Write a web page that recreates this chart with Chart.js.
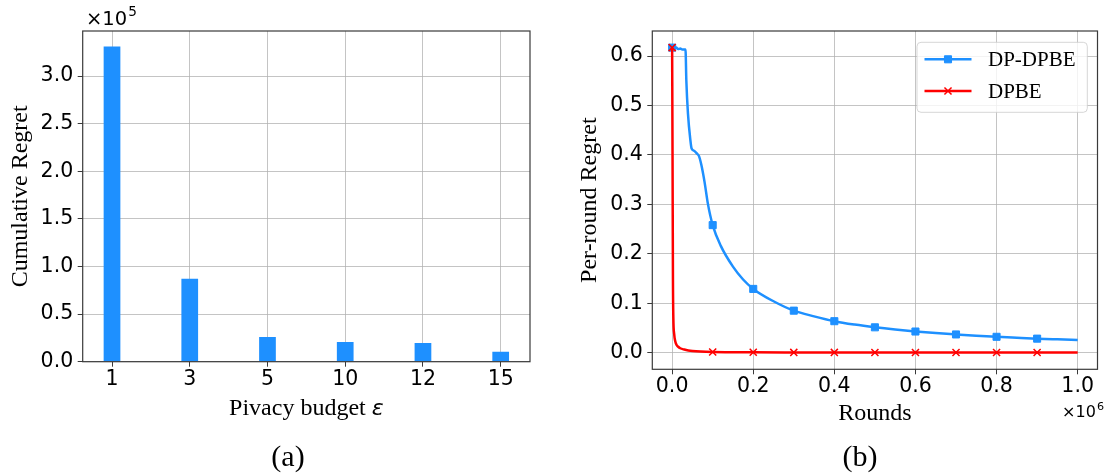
<!DOCTYPE html>
<html lang="en">
<head>
<meta charset="UTF-8">
<title>Regret</title>
<script src="https://cdn.jsdelivr.net/npm/chart.js"></script>
<style>
  body { margin: 0; background: #fff; }
  #wrap { position: relative; width: 1104px; height: 474px; overflow: hidden; }
  canvas { position: absolute; top: 0; }
  #graficoA { left: 0; }
  #graficoB { left: 552px; }
  .rotulo {
    position: absolute; top: 438px; width: 80px; text-align: center;
    font-family: 'Liberation Serif', serif; font-size: 30px; line-height: 36px; color: #000;
  }
</style>
</head>
<body>
<div id="wrap">
  <canvas id="graficoA" width="552" height="474"></canvas>
  <canvas id="graficoB" width="552" height="474"></canvas>
  <div class="rotulo" style="left:248px">(a)</div>
  <div class="rotulo" style="left:820px">(b)</div>
</div>
<script>
  // (a) regret acumulado por orcamento de privacidade
  var epsilons = ['1', '3', '5', '10', '12', '15'];
  var cumRegret = [331000, 87200, 25900, 20700, 19600, 10500];
  var cumTicks = [0, 50000, 100000, 150000, 200000, 250000, 300000];

  // (b) regret por rodada
  var dpdpbeRounds = [0, 5000, 10000, 15000, 20000, 25000, 33000, 35000, 39000, 45000, 48000, 55000, 62000, 66000,
    72000, 80000, 88000, 100000, 120000, 150000, 175000, 200000, 250000, 300000, 350000, 400000, 450000, 500000,
    550000, 600000, 650000, 700000, 750000, 800000, 850000, 900000, 950000, 1000000];
  var dpdpbeRegret = [0.617, 0.616, 0.617, 0.614, 0.615, 0.613, 0.613, 0.551, 0.484, 0.430, 0.413, 0.408, 0.402, 0.398,
    0.380, 0.345, 0.302, 0.258, 0.216, 0.174, 0.148, 0.129, 0.104, 0.085, 0.0735, 0.0637, 0.0568, 0.0513,
    0.0467, 0.0428, 0.0396, 0.0369, 0.0344, 0.0321, 0.0302, 0.0284, 0.0270, 0.0257];
  var dpbeRounds = [0, 1000, 2000, 3000, 5000, 8000, 11000, 15000, 20000, 30000, 40000, 50000, 70000, 100000,
    200000, 300000, 400000, 500000, 600000, 700000, 800000, 900000, 1000000];
  var dpbeRegret = [0.617, 0.40, 0.15, 0.07, 0.038, 0.022, 0.0156, 0.012, 0.009, 0.0063, 0.0045, 0.0034, 0.0022, 0.0014,
    0.0008, 0.0006, 0.0005, 0.0004, 0.0004, 0.0003, 0.0003, 0.0003, 0.0003];
  var markerRounds = [0, 100000, 200000, 300000, 400000, 500000, 600000, 700000, 800000, 900000];
  var roundTicks = [0, 200000, 400000, 600000, 800000, 1000000];
  var perRoundTicks = [0, 0.1, 0.2, 0.3, 0.4, 0.5, 0.6];

  const fonteTick = { family: 'DejaVu Sans', size: 20.5 };
  const fonteTitulo = { family: 'Liberation Serif', size: 24 };
  const corGrade = 'rgba(176,176,176,0.75)';
  const corEixo = '#3a3a3a';

  function fixaLargura(w) { return function (scale) { scale.width = w; }; }
  function fixaAltura(h) {
    return function (scale) {
      scale.height = h;
      scale.paddingLeft = 0;
      scale.paddingRight = 0;
    };
  }
  function soTicks(lista) { return function (scale) { scale.ticks = lista.map(v => ({ value: v })); }; }
  function pares(xs, ys) { return xs.map((x, i) => ({ x: x, y: ys[i] })); }

  // moldura completa em volta da area do grafico
  const moldura = {
    id: 'moldura',
    afterDraw(chart) {
      const { ctx, chartArea: a } = chart;
      ctx.save();
      ctx.strokeStyle = corEixo;
      ctx.lineWidth = 1.2;
      ctx.strokeRect(a.left, a.top, a.right - a.left, a.bottom - a.top);
      ctx.restore();
    }
  };

  // texto de escala tipo x10^n
  function expoente(n, tam, pos) {
    return {
      id: 'expoente' + n,
      afterDraw(chart) {
        const ctx = chart.ctx;
        const p = pos(chart);
        ctx.save();
        ctx.fillStyle = '#000';
        ctx.textBaseline = 'alphabetic';
        ctx.textAlign = 'left';
        ctx.font = tam + 'px "DejaVu Sans"';
        const w = ctx.measureText('×10').width;
        ctx.font = (tam * 0.7) + 'px "DejaVu Sans"';
        const ws = ctx.measureText(n).width;
        let x = p.x;
        if (p.right) x = p.x - w - ws;
        ctx.font = tam + 'px "DejaVu Sans"';
        ctx.fillText('×10', x, p.y);
        ctx.font = (tam * 0.7) + 'px "DejaVu Sans"';
        ctx.fillText(n, x + w + 1, p.y - tam * 0.45);
        ctx.restore();
      }
    };
  }

  // titulo do eixo x de (a): texto serifado + epsilon italico
  const tituloEps = {
    id: 'tituloEps',
    afterDraw(chart) {
      const { ctx, chartArea: a } = chart;
      const parte1 = 'Pivacy budget ', parte2 = 'ε';
      ctx.save();
      ctx.fillStyle = '#000';
      ctx.textBaseline = 'alphabetic';
      ctx.font = '24px "Liberation Serif"';
      const w1 = ctx.measureText(parte1).width;
      ctx.font = 'italic 22px "DejaVu Sans"';
      const w2 = ctx.measureText(parte2).width;
      const x = (a.left + a.right) / 2 - (w1 + w2) / 2;
      ctx.font = '24px "Liberation Serif"';
      ctx.fillText(parte1, x, 415);
      ctx.font = 'italic 22px "DejaVu Sans"';
      ctx.fillText(parte2, x + w1, 415);
      ctx.restore();
    }
  };

  // legenda com linha + marcador, dentro da area
  const legendaB = {
    id: 'legendaB',
    afterDraw(chart) {
      const { ctx, chartArea: a } = chart;
      const x0 = a.right - 180.5, y0 = a.top + 11.3, w = 170.3, h = 70;
      ctx.save();
      ctx.fillStyle = 'rgba(255,255,255,0.8)';
      ctx.strokeStyle = 'rgba(204,204,204,0.8)';
      ctx.lineWidth = 1;
      ctx.beginPath();
      ctx.roundRect(x0, y0, w, h, 4);
      ctx.fill();
      ctx.stroke();
      chart.data.datasets.forEach(function (ds, i) {
        const y = y0 + 17 + i * 31.7;
        ctx.strokeStyle = ds.borderColor;
        ctx.lineWidth = ds.borderWidth;
        ctx.beginPath();
        ctx.moveTo(x0 + 7.5, y);
        ctx.lineTo(x0 + 54.5, y);
        ctx.stroke();
        ctx.fillStyle = ds.pointBackgroundColor;
        ctx.strokeStyle = ds.pointBorderColor;
        ctx.lineWidth = ds.pointBorderWidth;
        Chart.helpers.drawPoint(ctx, { pointStyle: ds.pointStyle, rotation: 0, radius: 5, borderWidth: ds.pointBorderWidth }, x0 + 31, y);
        ctx.fillStyle = '#000';
        ctx.font = '21px "Liberation Serif"';
        ctx.textBaseline = 'middle';
        ctx.fillText(ds.label, x0 + 71, y + 1);
      });
      ctx.restore();
    }
  };

  new Chart(document.getElementById('graficoA'), {
    type: 'bar',
    data: {
      datasets: [{
        data: pares(cumRegret.map((v, i) => i), cumRegret),
        backgroundColor: '#1E90FF',
        barPercentage: 0.215,
        categoryPercentage: 1
      }]
    },
    options: {
      responsive: false,
      animation: false,
      layout: { padding: { left: 0, right: 22, top: 31, bottom: 42.3 } },
      plugins: { legend: { display: false }, tooltip: { enabled: false } },
      scales: {
        x: {
          type: 'linear', min: -0.377, max: 5.377, offset: false, z: 1,
          afterBuildTicks: soTicks([0, 1, 2, 3, 4, 5]),
          afterFit: fixaAltura(70),
          ticks: { callback: v => epsilons[v], font: fonteTick, color: '#000', padding: 1, maxRotation: 0 },
          grid: { offset: false, color: corGrade, tickColor: corEixo, tickLength: 5, lineWidth: 1 },
          border: { display: false },
          title: { display: false }
        },
        y: {
          min: 0, max: 347300, z: 1,
          afterBuildTicks: soTicks(cumTicks),
          afterFit: fixaLargura(82.7),
          ticks: { callback: v => (v / 1e5).toFixed(1), font: fonteTick, color: '#000', padding: 4.5 },
          grid: { color: corGrade, tickColor: corEixo, tickLength: 5, lineWidth: 1 },
          border: { display: false },
          title: { display: true, text: 'Cumulative Regret', font: fonteTitulo, color: '#000', padding: { top: 6, bottom: 0 } }
        }
      }
    },
    plugins: [moldura, tituloEps, expoente('5', 19.5, c => ({ x: c.chartArea.left + 3.3, y: 25 }))]
  });

  new Chart(document.getElementById('graficoB'), {
    type: 'line',
    data: {
      datasets: [{
        label: 'DP-DPBE',
        data: pares(dpdpbeRounds, dpdpbeRegret),
        borderColor: '#1E90FF',
        backgroundColor: '#1E90FF',
        pointBackgroundColor: '#1E90FF',
        pointBorderColor: '#1E90FF',
        pointBorderWidth: 1,
        pointStyle: 'rect',
        borderWidth: 2.5,
        order: 1
      }, {
        label: 'DPBE',
        data: pares(dpbeRounds, dpbeRegret),
        borderColor: '#FF0000',
        backgroundColor: '#FF0000',
        pointBackgroundColor: '#FF0000',
        pointBorderColor: '#FF0000',
        pointBorderWidth: 1.5,
        pointStyle: 'crossRot',
        borderWidth: 2.5,
        order: 0
      }]
    },
    options: {
      responsive: false,
      animation: false,
      cubicInterpolationMode: 'monotone',
      elements: {
        point: { radius: ctx => (ctx.raw && markerRounds.indexOf(ctx.raw.x) >= 0 ? 5 : 0), hoverRadius: 0 }
      },
      layout: { padding: { left: 0, right: 2.7, top: 31, bottom: 34.7 } },
      plugins: { legend: { display: false }, tooltip: { enabled: false } },
      scales: {
        x: {
          type: 'linear', min: -48900, max: 1048900,
          afterBuildTicks: soTicks(roundTicks),
          afterFit: fixaAltura(70),
          ticks: { callback: v => (v / 1e6).toFixed(1), font: fonteTick, color: '#000', padding: 0, maxRotation: 0 },
          grid: { color: corGrade, tickColor: corEixo, tickLength: 5, lineWidth: 1 },
          border: { display: false },
          title: { display: true, text: 'Rounds', font: fonteTitulo, color: '#000', padding: { top: 0, bottom: 11.4 } }
        },
        y: {
          min: -0.0336, max: 0.6506,
          afterBuildTicks: soTicks(perRoundTicks),
          afterFit: fixaLargura(100.3),
          ticks: { callback: v => v.toFixed(1), font: fonteTick, color: '#000', padding: 4.5 },
          grid: { color: corGrade, tickColor: corEixo, tickLength: 5, lineWidth: 1 },
          border: { display: false },
          title: { display: true, text: 'Per-round Regret', font: fonteTitulo, color: '#000', padding: { top: 23.6, bottom: 0 } }
        }
      }
    },
    plugins: [moldura, legendaB, expoente('6', 16, c => ({ x: 551, y: 416.7, right: true }))]
  });
</script>
</body>
</html>
